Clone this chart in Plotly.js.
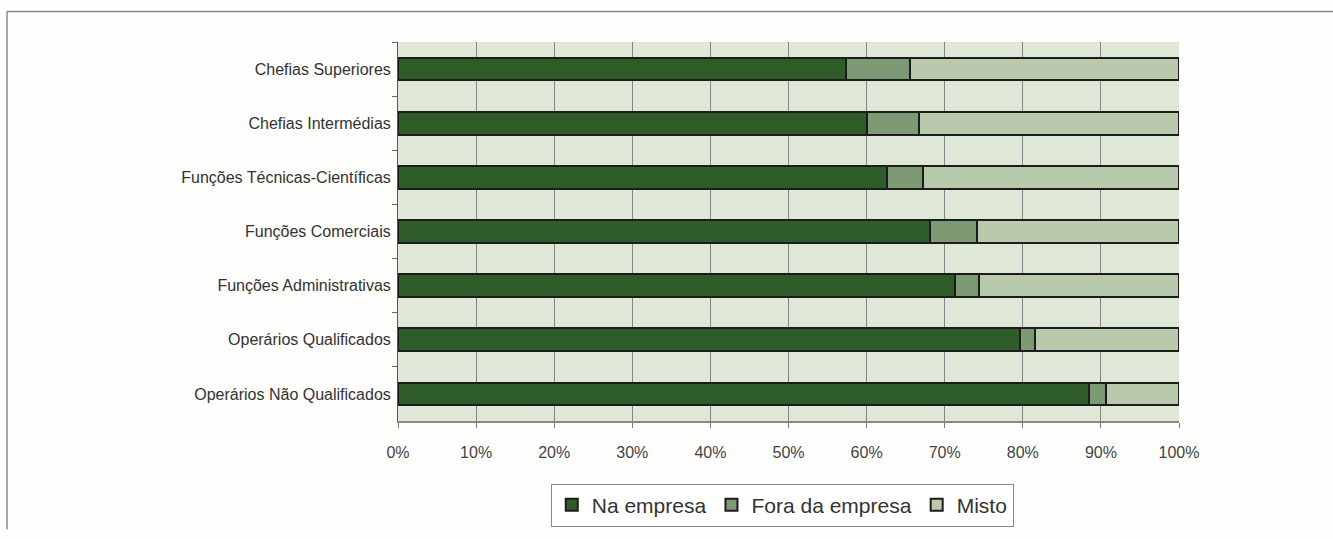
<!DOCTYPE html>
<html>
<head>
<meta charset="utf-8">
<script src="https://cdn.plot.ly/plotly-3.0.1.min.js"></script>
<style>
  html, body { margin: 0; padding: 0; background: #fdfdfb; }
  #chart { width: 1333px; height: 539px; }
</style>
</head>
<body>
<div id="chart"></div>
<script>
const categories = [
  "Chefias Superiores",
  "Chefias Intermédias",
  "Funções Técnicas-Científicas",
  "Funções Comerciais",
  "Funções Administrativas",
  "Operários Qualificados",
  "Operários Não Qualificados"
];
const naEmpresa   = [57.3, 60.0, 62.6, 68.1, 71.3, 79.7, 88.5];
const foraEmpresa = [8.3, 6.7, 4.6, 6.0, 3.1, 1.9, 2.2];
const misto       = [34.4, 33.3, 32.8, 25.9, 25.6, 18.4, 9.3];
const seriesNames = ["Na empresa", "Fora da empresa", "Misto"];
const xTickVals = [0, 10, 20, 30, 40, 50, 60, 70, 80, 90, 100];
const xTickText = ["0%", "10%", "20%", "30%", "40%", "50%", "60%", "70%", "80%", "90%", "100%"];

const colors = ["#2e5d2a", "#7d9a74", "#b8c9ac"];
const lineStyle = {color: "#1c1c1c", width: 2};
const values = [naEmpresa, foraEmpresa, misto];

const traces = values.map((v, i) => ({
  type: "bar",
  orientation: "h",
  name: seriesNames[i],
  y: categories,
  x: v,
  marker: {color: colors[i], line: lineStyle},
  hoverinfo: "x+y+name"
}));

const frameLine = {color: "#8a8a8a", width: 1.5};

const layout = {
  width: 1333,
  height: 539,
  margin: {l: 398, r: 154, t: 42, b: 112},
  paper_bgcolor: "#fdfdfb",
  plot_bgcolor: "#dfe7d6",
  barmode: "stack",
  bargap: 0.58,
  font: {family: "Liberation Sans, Arial, sans-serif", size: 16, color: "#333333"},
  xaxis: {
    range: [0, 100],
    tickvals: xTickVals,
    ticktext: xTickText,
    ticks: "outside",
    ticklen: 5,
    tickcolor: "#777777",
    ticklabelstandoff: 11,
    showgrid: true,
    gridcolor: "#858585",
    gridwidth: 1,
    showline: true,
    linecolor: "#888888",
    linewidth: 2,
    zeroline: false,
    tickfont: {size: 16, color: "#444444"},
    fixedrange: true
  },
  yaxis: {
    autorange: "reversed",
    type: "category",
    ticks: "outside",
    tickson: "boundaries",
    ticklen: 5,
    tickcolor: "#666666",
    showgrid: false,
    showline: true,
    linecolor: "#555555",
    linewidth: 1,
    ticklabelstandoff: 3,
    tickfont: {size: 16, color: "#333333"},
    fixedrange: true
  },
  legend: {
    orientation: "h",
    x: 0.492,
    xanchor: "center",
    y: -0.165,
    yanchor: "top",
    bgcolor: "#ffffff",
    bordercolor: "#888888",
    borderwidth: 1,
    font: {size: 21, color: "#333333"},
    traceorder: "normal",
    itemwidth: 30,
    tracegroupgap: 0
  },
  shapes: [
    {type: "line", xref: "paper", yref: "paper", x0: -0.5006, x1: 1.25, y0: 1.0805, y1: 1.0805, line: frameLine, layer: "below"},
    {type: "line", xref: "paper", yref: "paper", x0: -0.5006, x1: -0.5006, y0: -0.2857, y1: 1.0805, line: frameLine, layer: "below"}
  ],
  showlegend: true
};

Plotly.newPlot("chart", traces, layout, {displayModeBar: false, staticPlot: true});
</script>
</body>
</html>
